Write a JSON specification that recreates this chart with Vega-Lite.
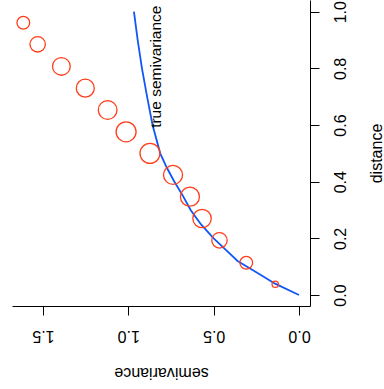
{
  "$schema": "https://vega.github.io/schema/vega-lite/v6.json",
  "width": 298,
  "height": 306,
  "autosize": {"type": "none"},
  "padding": {"left": 12, "top": 0, "right": 74, "bottom": 83},
  "config": {
    "view": {"stroke": null},
    "font": "Liberation Sans",
    "axis": {
      "grid": false,
      "domainColor": "#000000",
      "tickColor": "#000000",
      "labelColor": "#000000",
      "titleColor": "#000000",
      "labelFont": "Liberation Sans",
      "titleFont": "Liberation Sans",
      "labelFontSize": 16,
      "titleFontSize": 16,
      "titleFontWeight": "normal",
      "tickSize": 9,
      "domainWidth": 1,
      "tickWidth": 1,
      "labelFlush": false,
      "labelOverlap": false
    }
  },
  "datasets": {
    "curve": [
      {"distance": 0, "semivariance": 0},
      {"distance": 0.04, "semivariance": 0.14},
      {"distance": 0.08, "semivariance": 0.25},
      {"distance": 0.12, "semivariance": 0.36},
      {"distance": 0.16, "semivariance": 0.43},
      {"distance": 0.2, "semivariance": 0.5},
      {"distance": 0.25, "semivariance": 0.575},
      {"distance": 0.3, "semivariance": 0.635},
      {"distance": 0.35, "semivariance": 0.68},
      {"distance": 0.4, "semivariance": 0.73},
      {"distance": 0.45, "semivariance": 0.775},
      {"distance": 0.5, "semivariance": 0.813},
      {"distance": 0.6, "semivariance": 0.858},
      {"distance": 0.7, "semivariance": 0.89},
      {"distance": 0.8, "semivariance": 0.92},
      {"distance": 0.9, "semivariance": 0.945},
      {"distance": 1.0, "semivariance": 0.967}
    ],
    "points": [
      {"distance": 0.038, "semivariance": 0.139, "npairs": 64},
      {"distance": 0.114, "semivariance": 0.309, "npairs": 127},
      {"distance": 0.193, "semivariance": 0.466, "npairs": 154},
      {"distance": 0.27, "semivariance": 0.568, "npairs": 184},
      {"distance": 0.347, "semivariance": 0.639, "npairs": 190},
      {"distance": 0.424, "semivariance": 0.738, "npairs": 190},
      {"distance": 0.5, "semivariance": 0.873, "npairs": 200},
      {"distance": 0.576, "semivariance": 1.013, "npairs": 200},
      {"distance": 0.653, "semivariance": 1.121, "npairs": 187},
      {"distance": 0.73, "semivariance": 1.252, "npairs": 180},
      {"distance": 0.807, "semivariance": 1.392, "npairs": 177},
      {"distance": 0.885, "semivariance": 1.531, "npairs": 154},
      {"distance": 0.961, "semivariance": 1.615, "npairs": 127}
    ],
    "labels": [
      {"distance": 0.59, "semivariance": 0.81, "label": "true semivariance"}
    ]
  },
  "layer": [
    {
      "data": {"name": "curve"},
      "mark": {"type": "line", "color": "#1157F5", "strokeWidth": 1.8},
      "encoding": {
        "x": {
          "field": "semivariance",
          "type": "quantitative",
          "scale": {"domain": [-0.0644, 1.6813], "reverse": true, "nice": false, "zero": false},
          "axis": {
            "orient": "bottom",
            "title": "semivariance",
            "values": [0, 0.5, 1, 1.5],
            "format": ".1f",
            "labelAngle": 180,
            "labelAlign": "center",
            "labelBaseline": "alphabetic",
            "labelPadding": 15,
            "titleAngle": 180,
            "titleAlign": "center",
            "titleBaseline": "alphabetic",
            "titleX": 149,
            "titleY": 61
          }
        },
        "y": {
          "field": "distance",
          "type": "quantitative",
          "scale": {"domain": [-0.0388, 1.0413], "nice": false, "zero": false},
          "axis": {
            "orient": "right",
            "title": "distance",
            "values": [0, 0.2, 0.4, 0.6, 0.8, 1.0],
            "format": ".1f",
            "labelAngle": 270,
            "labelAlign": "center",
            "labelBaseline": "alphabetic",
            "labelPadding": 26,
            "titleAngle": 270,
            "titleAlign": "center",
            "titleBaseline": "alphabetic",
            "titleX": 71,
            "titleY": 153
          }
        },
        "order": {"field": "distance", "type": "quantitative"}
      }
    },
    {
      "data": {"name": "points"},
      "mark": {"type": "point", "shape": "circle", "filled": false, "color": "#FF3D1A", "strokeWidth": 1.3, "opacity": 1},
      "encoding": {
        "x": {"field": "semivariance", "type": "quantitative"},
        "y": {"field": "distance", "type": "quantitative"},
        "size": {
          "field": "npairs",
          "type": "quantitative",
          "scale": {"type": "pow", "exponent": 2, "domain": [0, 200], "range": [0, 400]},
          "legend": null
        }
      }
    },
    {
      "data": {"name": "labels"},
      "mark": {"type": "text", "angle": 270, "align": "left", "baseline": "alphabetic", "fontSize": 15.5, "color": "#000000", "font": "Liberation Sans"},
      "encoding": {
        "x": {"field": "semivariance", "type": "quantitative"},
        "y": {"field": "distance", "type": "quantitative"},
        "text": {"field": "label"}
      }
    }
  ]
}
